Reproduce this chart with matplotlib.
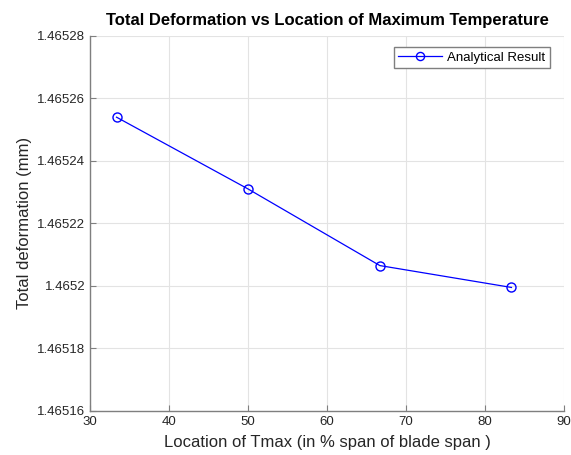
import matplotlib.pyplot as plt
from matplotlib.ticker import FormatStrFormatter

plt.rcParams['font.family'] = ['Liberation Sans', 'DejaVu Sans']

# data
location = [33.33, 50.0, 66.67, 83.33]
deformation = [1.465254, 1.465231, 1.4652065, 1.4651995]
yticks = [1.46516, 1.46518, 1.4652, 1.46522, 1.46524, 1.46526, 1.46528]
xticks = [30, 40, 50, 60, 70, 80, 90]

fig = plt.figure(figsize=(5.71, 4.55), dpi=100)
ax = fig.add_axes([0.158, 0.097, 0.83, 0.824])

ax.plot(location, deformation, color='blue', linewidth=0.9, marker='o',
        markersize=6.5, markerfacecolor='none', markeredgewidth=1.0,
        label='Analytical Result')

ax.set_xlim(30, 90)
ax.set_ylim(1.46516, 1.46528)
ax.set_xticks(xticks)
ax.set_yticks(yticks)
ax.yaxis.set_major_formatter(FormatStrFormatter('%g'))

ax.grid(True, color='#e3e3e3', linewidth=0.8)
ax.set_axisbelow(True)
for side in ['top', 'right']:
    ax.spines[side].set_visible(False)
for side in ['left', 'bottom']:
    ax.spines[side].set_color('#7f7f7f')
    ax.spines[side].set_linewidth(1.0)
ax.tick_params(direction='in', length=4, width=0.8, colors='#7f7f7f',
               labelsize=9.5, labelcolor='#262626')

ax.set_title('Total Deformation vs Location of Maximum Temperature',
             fontsize=12, fontweight='bold', pad=8)
ax.set_xlabel('Location of Tmax (in % span of blade span )', fontsize=12,
              color='#262626', labelpad=5)
ax.set_ylabel('Total deformation (mm)', fontsize=12, color='#262626')

leg = ax.legend(loc='upper right', bbox_to_anchor=(0.970, 0.971),
                borderaxespad=0, fontsize=9.5, fancybox=False,
                framealpha=1, edgecolor='#7f7f7f', borderpad=0.35,
                handlelength=3.3, handletextpad=0.4, markerscale=0.9)
leg.get_frame().set_linewidth(1.0)

fig.savefig('out.png', dpi=100)
